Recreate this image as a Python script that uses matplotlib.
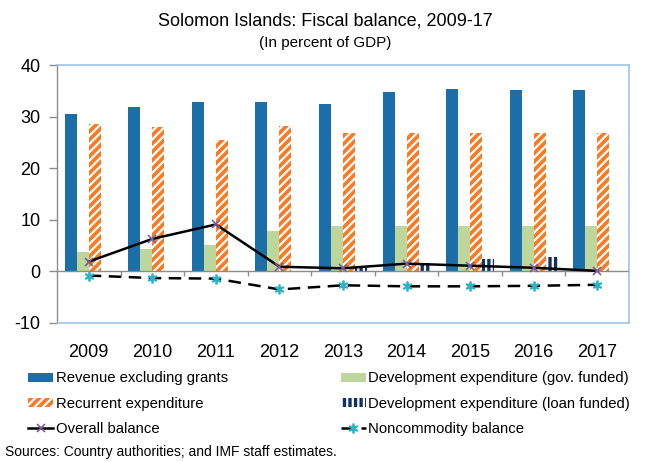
import matplotlib.pyplot as plt
import numpy as np

years = ['2009', '2010', '2011', '2012', '2013', '2014', '2015', '2016', '2017']
revenue = [30.5, 31.9, 32.9, 32.8, 32.5, 34.8, 35.3, 35.1, 35.1]
dev_gov = [3.7, 4.4, 5.1, 7.9, 8.8, 8.8, 8.8, 8.8, 8.8]
recurrent = [28.6, 28.0, 25.5, 28.2, 26.8, 26.8, 26.8, 26.8, 26.8]
dev_loan = [0.0, 0.0, 0.0, 0.0, 0.7, 1.7, 2.4, 2.7, 0.0]
overall = [1.9, 6.3, 9.1, 0.9, 0.6, 1.5, 1.1, 0.7, 0.1]
noncommodity = [-0.8, -1.3, -1.4, -3.5, -2.7, -2.9, -2.9, -2.8, -2.6]

BLUE = '#1C6EA9'
GREEN = '#BDD69C'
ORANGE = '#F97A22'
NAVY = '#10306A'
FRAME = '#9DC3E6'
GREY = '#8C8C8C'

plt.rcParams['font.family'] = ['Liberation Sans', 'DejaVu Sans']
plt.rcParams['axes.unicode_minus'] = False
plt.rcParams['hatch.linewidth'] = 1.6

fig = plt.figure(figsize=(6.5, 4.62), dpi=100)
ax = fig.add_axes([0.0877, 0.301, 0.88, 0.558])

x = np.arange(len(years))
w = 0.189
b_rev = ax.bar(x - 1.5 * w, revenue, w, color=BLUE, label='Revenue excluding grants', zorder=2)
b_gov = ax.bar(x - 0.5 * w, dev_gov, w, color=GREEN, label='Development expenditure (gov. funded)', zorder=2)
b_rec = ax.bar(x + 0.5 * w, recurrent, w, facecolor=ORANGE, edgecolor='white', hatch='////',
               linewidth=0, label='Recurrent expenditure', zorder=2)
b_loan = ax.bar(x + 1.5 * w, dev_loan, w, facecolor=NAVY, edgecolor='white', hatch='|||',
                linewidth=0, label='Development expenditure (loan funded)', zorder=2)

l_all, = ax.plot(x, overall, color='black', lw=1.8, marker='x', ms=6, mec='#7B5C9E', mew=1.2,
                 label='Overall balance', zorder=4)
l_nc, = ax.plot(x, noncommodity, color='black', lw=1.8, ls=(0, (5, 3)), marker=(6, 2, 0), ms=7,
                mec='#2BB3C8', mew=1.3, label='Noncommodity balance', zorder=4)

# zero line with category separators
ax.axhline(0, color=GREY, lw=1.0, zorder=3)
ax.vlines(x[:-1] + 0.5, -0.8, 0, color=GREY, lw=1.0, zorder=3)

ax.set_xlim(-0.5, len(years) - 0.5)
ax.set_ylim(-10, 40)
ax.set_yticks([-10, 0, 10, 20, 30, 40])
ax.set_xticks(x, years)
ax.tick_params(axis='x', length=0, pad=15, labelsize=13)
ax.tick_params(axis='y', length=6, color=GREY, width=1.0, pad=6, labelsize=13)

for side in ['top', 'right', 'bottom']:
    ax.spines[side].set_color(FRAME)
    ax.spines[side].set_linewidth(1.2)
ax.spines['left'].set_color(GREY)
ax.spines['left'].set_linewidth(1.0)

fig.text(0.5, 0.955, 'Solomon Islands: Fiscal balance, 2009-17', ha='center', va='center', fontsize=13)
fig.text(0.5, 0.908, '(In percent of GDP)', ha='center', va='center', fontsize=11)

handles = [b_rev, b_rec, l_all, b_gov, b_loan, l_nc]
fig.legend(handles, [h.get_label() for h in handles],
           loc='upper left', bbox_to_anchor=(0.034, 0.209), ncol=2, frameon=False,
           fontsize=10.7, handlelength=1.7, handleheight=0.55,
           handletextpad=0.15, columnspacing=7.6, labelspacing=0.76, borderaxespad=0)

fig.text(0.008, 0.006, 'Sources: Country authorities; and IMF staff estimates.', fontsize=10,
         va='bottom')

fig.savefig('out.png', dpi=100)
